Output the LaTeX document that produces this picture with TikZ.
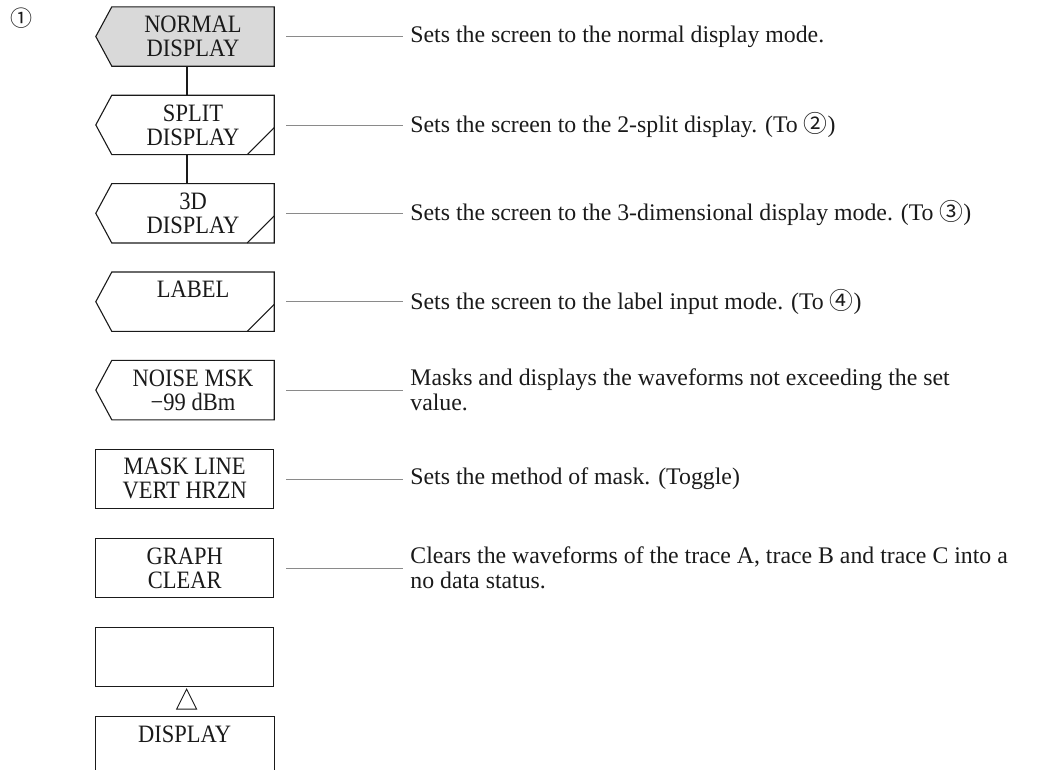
\documentclass[tikz,border=0pt]{standalone}
\usepackage{fontspec}
\setmainfont{Liberation Serif}[FakeStretch=0.9]
\newfontfamily\descfont{Liberation Serif}
\newfontfamily\circfont{Noto Sans CJK JP}
\usetikzlibrary{positioning,backgrounds}
\definecolor{Ink}{HTML}{1A1A1A}
\definecolor{Leader}{HTML}{8A8A8A}
\definecolor{KeyShade}{HTML}{D9D9D9}

\begin{document}
\begin{tikzpicture}[
    x=1pt, y=-1pt,
    node distance=29pt and 136pt,
    keybox/.style={rectangle, minimum width=162pt, minimum height=59pt, inner sep=0pt, align=center, font=\fontsize{25}{24}\selectfont\color{Ink}},
    plainbox/.style={rectangle, draw=Ink, line width=1.1pt, minimum width=178pt, minimum height=59pt, inner sep=0pt, align=center, font=\fontsize{25}{24}\selectfont\color{Ink}},
    desc/.style={inner sep=0pt, align=left, font=\descfont\fontsize{23.8}{25}\selectfont\color{Ink}},
    leader/.style={draw=Leader, line width=0.6pt},
    link/.style={draw=Ink, line width=1.1pt}
  ]
    \useasboundingbox (0,0) rectangle (1043,769);

    % Page index
    \node (idx) at (21,18) [font=\circfont\fontsize{22}{22}\selectfont\color{Ink}] {①};

    % Soft keys
    \node (normal) [keybox] at (193,36.5) {NORMAL\\DISPLAY};
    \node (split) [keybox, below=of normal] {SPLIT\\DISPLAY};
    \node (threed) [keybox, below=of split] {3D\\DISPLAY};
    \node (label) [keybox, below=of threed] {LABEL\\\phantom{D}};
    \node (noise) [keybox, below=of label] {NOISE MSK\\−99 dBm};

    % Plain keys
    \node (mask) [plainbox, below left=29pt and 0pt of noise.south east] {MASK LINE\\VERT HRZN};
    \node (graph) [plainbox, below=of mask] {GRAPH\\CLEAR};
    \node (blank) [plainbox, below=of graph] {};
    \node (disp) [plainbox, draw=none, below=of blank] {DISPLAY\\\phantom{D}};

    % Descriptions
    \node (dnormal) [desc, right=of normal] {Sets the screen to the normal display mode.};
    \node (dsplit) [desc, right=of split] {Sets the screen to the 2-split display. (To\ {\circfont ②})};
    \node (dthreed) [desc, right=of threed] {Sets the screen to the 3-dimensional display mode. (To\ {\circfont ③})};
    \node (dlabel) [desc, right=of label] {Sets the screen to the label input mode. (To\ {\circfont ④})};
    \node (dnoise) [desc, right=of noise] {Masks and displays the waveforms not exceeding the set\\value.};
    \node (dmask) [desc, right=of mask] {Sets the method of mask. (Toggle)};
    \node (dgraph) [desc, right=of graph] {Clears the waveforms of the trace A, trace B and trace C into a\\no data status.};

    % Key outlines
    \begin{scope}[on background layer]
      \draw [link, fill=KeyShade] (normal.north west) -- (normal.north east) -- (normal.south east) -- (normal.south west) -- ([xshift=-16pt]normal.west) -- cycle;
    \end{scope}
    \foreach \k in {split,threed,label,noise}
      \draw [link] (\k.north west) -- (\k.north east) -- (\k.south east) -- (\k.south west) -- ([xshift=-16pt]\k.west) -- cycle;
    \foreach \k in {split,threed,label}
      \draw [link] ([xshift=-27pt]\k.south east) -- ([yshift=27pt]\k.south east);
    \draw [link] (disp.south west) -- (disp.north west) -- (disp.north east) -- (disp.south east);
    \draw [link, line width=0.9pt] ([xshift=2pt,yshift=-2pt]blank.south) -- ++(10pt,-20pt) -- ++(-20pt,0pt) -- cycle;

    % Connections
    \draw [link] ([xshift=-6pt]normal.south) -- ([xshift=-6pt]split.north);
    \draw [link] ([xshift=-6pt]split.south) -- ([xshift=-6pt]threed.north);
    \foreach \k in {normal,split,threed,label,noise,mask,graph}
      \draw [leader] ([xshift=12pt]\k.east) -- ([xshift=-7pt]d\k.west);
  \end{tikzpicture}
\end{document}
